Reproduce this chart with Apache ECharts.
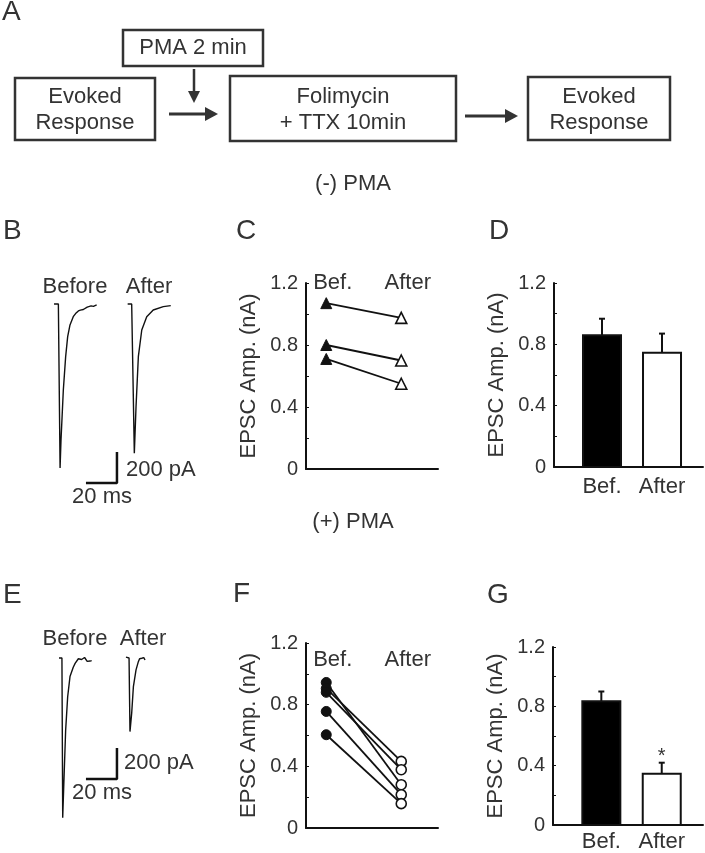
<!DOCTYPE html>
<html>
<head>
<meta charset="utf-8">
<script src="https://cdn.jsdelivr.net/npm/echarts@6/dist/echarts.min.js"></script>
<style>
  html, body { margin: 0; padding: 0; background: #fff; }
  #chart { width: 705px; height: 853px; }
</style>
</head>
<body>
<div id="chart"></div>
<script>
// ---- data ----
// EPSC traces: [time ms, current pA]
var tracePmaMinusBefore = [[2.6, 0], [5.4, 0], [6.5, -1058], [7.1, -877], [8.6, -555], [10.1, -340], [11.4, -211], [12.9, -135], [15.0, -82], [16.5, -62], [18.3, -45], [19.6, -40], [20.6, -30], [21.5, -36], [22.6, -25], [24.0, -20], [25.0, -27], [26.5, -12], [28.0, -16], [30.1, -6]];
var tracePmaMinusAfter = [[50.1, 0], [52.7, 0], [54.4, -963], [55.5, -663], [57.0, -340], [59.2, -168], [62.4, -82], [66.6, -39], [73.1, -17], [77.9, -11]];
var tracePmaPlusBefore = [[5.8, 0], [7.7, 0], [8.2, -1030], [9.0, -787], [10.1, -465], [11.4, -250], [12.9, -120], [15.0, -60], [16.2, -35], [17.2, -24], [18.3, -5], [19.4, 5], [20.4, -10], [21.5, -13], [22.3, 3], [23.2, 2], [24.0, -22], [24.7, -30], [25.8, -20], [26.9, -17]];
var tracePmaPlusAfter = [[49.0, 5], [51.0, 0], [51.6, -475], [52.7, -357], [53.8, -185], [55.5, -77], [57.0, -24], [57.8, -5], [58.5, 5], [59.2, -2], [59.8, -8], [60.5, 2], [61.3, -13]];
var scaleMs = 20, scalePA = 200;

// paired amplitudes (nA)
var pairCats = ['Bef.', 'After'];
var minusBef = [1.07, 0.80, 0.71];
var minusAft = [0.975, 0.70, 0.55];
var plusBef = [0.944, 0.905, 0.88, 0.756, 0.605];
var plusAft = [0.281, 0.432, 0.378, 0.216, 0.158];

// mean +/- sem (nA)
var barCats = ['Bef.', 'After'];
var minusMean = [0.86, 0.745];
var minusSem = [0.107, 0.125];
var plusMean = [0.835, 0.345];
var plusSem = [0.065, 0.075];
var plusSig = ['', '*'];

// ---- layout ----
var FONT = '"Liberation Sans", Arial, sans-serif';
var TXT = '#333';
var INK = '#111';

var chart = echarts.init(document.getElementById('chart'));

function txt(x, y, s, size, align) {
  return {
    type: 'text', x: x, y: y,
    style: { text: s, fill: TXT, fontSize: size || 22, fontFamily: FONT,
      align: align || 'center', verticalAlign: 'middle' }
  };
}
function box(x, y, w, h) {
  return { type: 'rect', shape: { x: x, y: y, width: w, height: h },
    style: { fill: 'none', stroke: '#333', lineWidth: 2.5 } };
}
function hArrow(x1, x2, y) {
  return [
    { type: 'line', shape: { x1: x1, y1: y, x2: x2 - 8, y2: y }, style: { stroke: '#333', lineWidth: 3 } },
    { type: 'polygon', shape: { points: [[x2 - 13, y - 7], [x2, y], [x2 - 13, y + 7]] }, style: { fill: '#333' } }
  ];
}
function vArrow(x, y1, y2) {
  return [
    { type: 'line', shape: { x1: x, y1: y1, x2: x, y2: y2 - 8 }, style: { stroke: '#333', lineWidth: 2.5 } },
    { type: 'polygon', shape: { points: [[x - 6, y2 - 12], [x, y2], [x + 6, y2 - 12]] }, style: { fill: '#333' } }
  ];
}

function ampYAxis(grid) {
  return {
    type: 'value', gridIndex: grid, min: 0, max: 1.2, interval: 0.4,
    name: 'EPSC Amp. (nA)', nameLocation: 'middle', nameGap: 46,
    nameTextStyle: { fontSize: 22, color: TXT, fontFamily: FONT },
    axisLine: { show: true, onZero: false, lineStyle: { color: INK, width: 2 } },
    axisTick: { show: true, inside: true, length: 3, lineStyle: { color: INK } },
    minorTick: { show: true, splitNumber: 2, length: 3, lineStyle: { color: INK } },
    splitLine: { show: false },
    axisLabel: { fontSize: 20, color: TXT, fontFamily: FONT, margin: 8,
      formatter: function (v) { return v === 0 ? '0' : v.toFixed(1); } }
  };
}
function pairXAxis(grid) {
  return { type: 'value', gridIndex: grid, min: 0.73, max: 2.49,
    axisLine: { show: true, onZero: false, lineStyle: { color: INK, width: 2 } },
    axisTick: { show: false }, axisLabel: { show: false }, splitLine: { show: false } };
}
function pairTopAxis(grid, margin) {
  return { type: 'value', gridIndex: grid, position: 'top', min: 0.73, max: 2.49,
    axisLine: { show: false }, axisTick: { show: false }, splitLine: { show: false },
    axisLabel: { customValues: [1, 2], margin: margin, fontSize: 22, color: TXT, fontFamily: FONT,
      padding: [0, 0, 0, 13],
      formatter: function (v) { return pairCats[Math.round(v) - 1]; } } };
}
function barXAxis(grid, margin) {
  return { type: 'value', gridIndex: grid, min: 0.2, max: 2.683,
    axisLine: { show: true, onZero: false, lineStyle: { color: INK, width: 2 } },
    axisTick: { show: false }, splitLine: { show: false },
    axisLabel: { customValues: [1, 2], margin: margin, fontSize: 22, color: TXT, fontFamily: FONT,
      formatter: function (v) { return barCats[Math.round(v) - 1]; } } };
}
function hiddenAxis(grid, min, max) {
  return { type: 'value', gridIndex: grid, min: min, max: max, show: false };
}

function traceSeries(data, xi, yi) {
  return { type: 'line', xAxisIndex: xi, yAxisIndex: yi, data: data, symbol: 'none',
    lineStyle: { color: INK, width: 1.4 }, silent: true, animation: false };
}
function scaleBarSeries(cornerT, cornerI, xi, yi) {
  return { type: 'line', xAxisIndex: xi, yAxisIndex: yi, symbol: 'none',
    data: [[cornerT - scaleMs, cornerI], [cornerT, cornerI], [cornerT, cornerI + scalePA]],
    lineStyle: { color: INK, width: 2.5 }, animation: false };
}
function pairSeries(bef, aft, symbol, size, xi, yi) {
  return bef.map(function (b, i) {
    return { type: 'line', xAxisIndex: xi, yAxisIndex: yi, symbol: symbol, symbolSize: size,
      lineStyle: { color: INK, width: 1.8 }, animation: false,
      data: [
        { value: [1, b], itemStyle: { color: INK, borderColor: INK, borderWidth: 1 } },
        { value: [2, aft[i]], itemStyle: { color: '#fff', borderColor: INK, borderWidth: 1.6 } }
      ] };
  });
}
function barSeries(mean, sem, sig, xi, yi) {
  return { type: 'custom', xAxisIndex: xi, yAxisIndex: yi, animation: false,
    encode: { x: 0, y: 1 },
    data: mean.map(function (m, i) { return [i + 1, m, sem[i]]; }),
    renderItem: function (params, api) {
      var x = api.value(0), m = api.value(1), e = api.value(2);
      var base = api.coord([x, 0]), top = api.coord([x, m]), et = api.coord([x, m + e]);
      var w = 38, i = params.dataIndex;
      var kids = [
        { type: 'line', shape: { x1: top[0], y1: top[1], x2: et[0], y2: et[1] }, style: { stroke: INK, lineWidth: 2 } },
        { type: 'line', shape: { x1: et[0] - 3, y1: et[1], x2: et[0] + 3, y2: et[1] }, style: { stroke: INK, lineWidth: 2 } },
        { type: 'rect', shape: { x: base[0] - w / 2, y: top[1], width: w, height: base[1] - top[1] },
          style: { fill: i === 0 ? '#000' : '#fff', stroke: INK, lineWidth: 2 } }
      ];
      if (sig && sig[i]) {
        kids.push({ type: 'text', x: et[0], y: et[1] - 6,
          style: { text: sig[i], fontSize: 20, fontFamily: FONT, fill: TXT, align: 'center', verticalAlign: 'middle' } });
      }
      return { type: 'group', children: kids };
    } };
}

var graphics = [
  // panel letters
  txt(2, 12, 'A', 28, 'left'), txt(3, 231, 'B', 28, 'left'), txt(236, 231, 'C', 28, 'left'),
  txt(489, 231, 'D', 28, 'left'), txt(3, 595, 'E', 28, 'left'), txt(233, 594, 'F', 28, 'left'),
  txt(487, 595, 'G', 28, 'left'),
  // protocol diagram
  box(123, 30, 140, 36), txt(193, 48, 'PMA 2 min'),
  box(15, 78, 140, 62), txt(85, 97, 'Evoked'), txt(85, 123, 'Response'),
  box(230, 76, 226, 65), txt(343, 97, 'Folimycin'), txt(343, 123, '+ TTX 10min'),
  box(528, 77, 142, 63), txt(599, 97, 'Evoked'), txt(599, 123, 'Response'),
  txt(353, 184, '(-) PMA'), txt(353, 522, '(+) PMA'),
  // trace labels
  txt(75, 287, 'Before'), txt(149, 287, 'After'),
  txt(126, 470, scalePA + ' pA', 22, 'left'), txt(102, 497, scaleMs + ' ms'),
  txt(75, 639, 'Before'), txt(143, 639, 'After'),
  txt(124, 763, scalePA + ' pA', 22, 'left'), txt(102, 793, scaleMs + ' ms')
].concat(hArrow(169, 218, 114), hArrow(465, 518, 116), vArrow(194, 69, 103));

var series = [
  traceSeries(tracePmaMinusBefore, 0, 0),
  traceSeries(tracePmaMinusAfter, 0, 0),
  scaleBarSeries(43.2, -1155, 0, 0),
  traceSeries(tracePmaPlusBefore, 4, 3),
  traceSeries(tracePmaPlusAfter, 4, 3),
  scaleBarSeries(43.2, -781, 4, 3),
  barSeries(minusMean, minusSem, null, 3, 2),
  barSeries(plusMean, plusSem, plusSig, 7, 5)
].concat(pairSeries(minusBef, minusAft, 'triangle', 11, 1, 1))
 .concat(pairSeries(plusBef, plusAft, 'circle', 10, 5, 4));

chart.setOption({
  backgroundColor: '#fff',
  animation: false,
  textStyle: { fontFamily: FONT },
  grid: [
    { left: 50, top: 290, width: 131.75, height: 200 },   // B traces
    { left: 306, top: 283, width: 132, height: 186 },     // C
    { left: 554, top: 283, width: 149, height: 184 },     // D
    { left: 50, top: 644, width: 131.75, height: 200 },   // E traces
    { left: 306, top: 643, width: 132, height: 185 },     // F
    { left: 553, top: 647, width: 150, height: 181 }      // G
  ],
  xAxis: [
    hiddenAxis(0, 0, 85),
    pairXAxis(1),
    pairTopAxis(1, -11),
    barXAxis(2, 9),
    hiddenAxis(3, 0, 85),
    pairXAxis(4),
    pairTopAxis(4, -28),
    barXAxis(5, 6)
  ],
  yAxis: [
    hiddenAxis(0, -1200, 90),
    ampYAxis(1),
    ampYAxis(2),
    hiddenAxis(3, -1200, 90),
    ampYAxis(4),
    ampYAxis(5)
  ],
  graphic: graphics,
  series: series
});
</script>
</body>
</html>
